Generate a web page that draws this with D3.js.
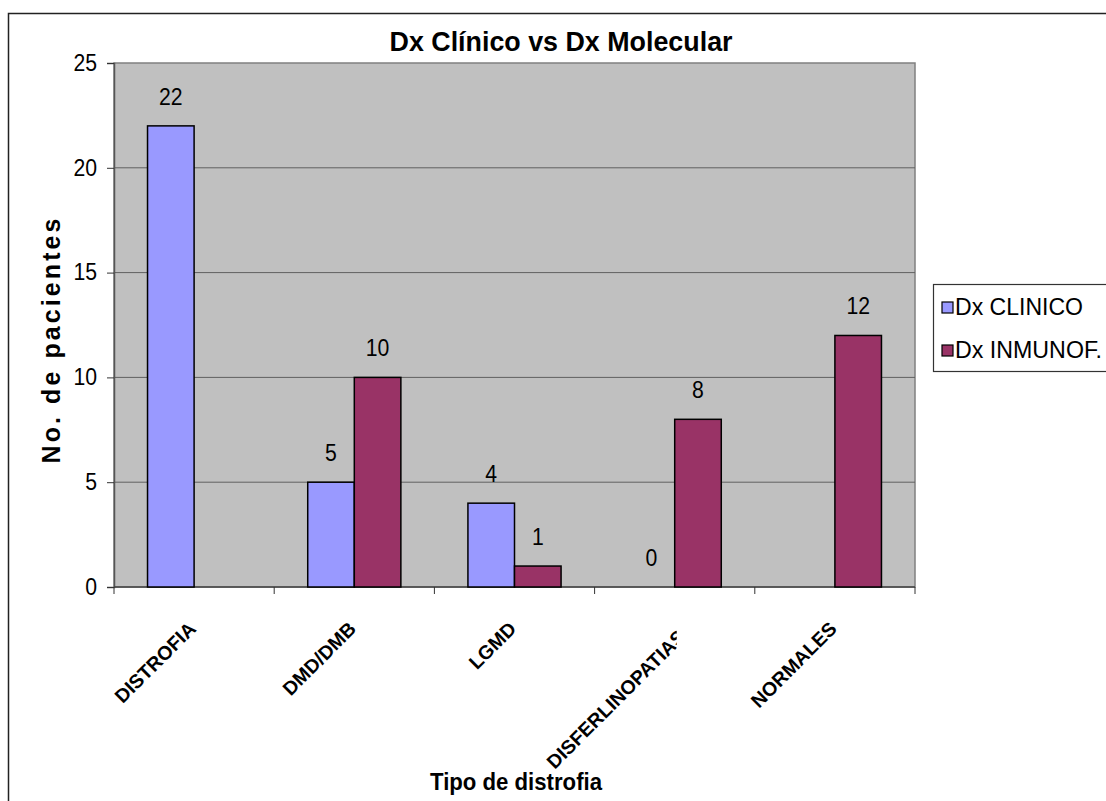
<!DOCTYPE html>
<html><head><meta charset="utf-8">
<script src="https://cdn.jsdelivr.net/npm/d3@7"></script>
<style>body{margin:0;background:#fff;} svg{display:block;}</style>
</head><body>
<svg id="c" width="1106" height="801"></svg>
<script>
const categories = ["DISTROFIA","DMD/DMB","LGMD","DISFERLINOPATIAS","NORMALES"];
const seriesNames = ["Dx CLINICO","Dx INMUNOF."];
const clinico = [22, 5, 4, 0, null];
const inmunof = [null, 10, 1, 8, 12];
const yTicks = [0,5,10,15,20,25];
const colors = ["#9999FF","#993366"];

const svg = d3.select("#c");
const font = "'Liberation Sans', Arial, sans-serif";
const L = 114, R = 915, T = 63, B = 587;

// outer chart border
svg.append("rect").attr("x",8.5).attr("y",13.5).attr("width",1120).attr("height",820)
  .attr("fill","#fff").attr("stroke","#222").attr("stroke-width",1.5);

const x0 = d3.scaleBand().domain(categories).range([L,R]).paddingInner(0).paddingOuter(0);
const x1 = d3.scaleBand().domain(seriesNames).range([0,x0.bandwidth()]).paddingInner(0).paddingOuter(0.72);
const y = d3.scaleLinear().domain([0,25]).range([B,T]);

// plot area
svg.append("rect").attr("x",L).attr("y",T).attr("width",R-L).attr("height",B-T)
  .attr("fill","#C0C0C0").attr("stroke","#808080").attr("stroke-width",1.5);

// gridlines
svg.append("g").selectAll("line").data(yTicks.filter(t=>t>0 && t<25)).join("line")
  .attr("x1",L).attr("x2",R).attr("y1",d=>y(d)).attr("y2",d=>y(d))
  .attr("stroke","#606060").attr("stroke-width",1);

// y axis
const yAxis = svg.append("g").attr("transform",`translate(${L},0)`)
  .call(d3.axisLeft(y).tickValues(yTicks).tickSize(7).tickPadding(10));
yAxis.select(".domain").attr("stroke","#555").attr("stroke-width",1.5);
yAxis.selectAll(".tick line").attr("stroke","#333");
yAxis.selectAll("text").attr("font-family",font).attr("font-size",23).attr("fill","#000")
  .attr("textLength",function(){return this.textContent.length*11.8;}).attr("lengthAdjust","spacingAndGlyphs");

// x axis with ticks at category boundaries
const xAxisG = svg.append("g");
xAxisG.append("line").attr("x1",L).attr("x2",R).attr("y1",B).attr("y2",B).attr("stroke","#444").attr("stroke-width",1.5);
const bounds = categories.map(c=>x0(c)).concat([x0(categories[categories.length-1])+x0.bandwidth()]);
xAxisG.selectAll("line.tk").data(bounds).join("line").attr("class","tk")
  .attr("x1",d=>d).attr("x2",d=>d).attr("y1",B).attr("y2",B+7).attr("stroke","#333").attr("stroke-width",1);

// bars
const data = [];
categories.forEach((c,i)=>{
  [clinico[i], inmunof[i]].forEach((v,j)=>{ if(v!==null) data.push({c, s:seriesNames[j], v, j}); });
});
svg.append("g").selectAll("rect").data(data).join("rect")
  .attr("x",d=>x0(d.c)+x1(d.s)).attr("width",x1.bandwidth())
  .attr("y",d=>y(d.v)).attr("height",d=>y(0)-y(d.v))
  .attr("fill",d=>colors[d.j]).attr("stroke","#000").attr("stroke-width",1.5);

// value labels
svg.append("g").selectAll("text").data(data).join("text")
  .attr("x",d=>x0(d.c)+x1(d.s)+x1.bandwidth()/2).attr("y",d=>y(d.v)-21)
  .attr("text-anchor","middle").attr("font-family",font).attr("font-size",23).attr("fill","#000")
  .attr("textLength",d=>String(d.v).length*11.8).attr("lengthAdjust","spacingAndGlyphs")
  .text(d=>d.v);

// category labels (long ones are cut at the category centre, as in the original)
const defs = svg.append("defs");
categories.forEach((c,i)=>{
  const cx = x0(c)+x0.bandwidth()/2;
  const long = c.length > 12;
  const dx = long ? 12 : 3;
  const cp = defs.append("clipPath").attr("id","clip"+i);
  cp.append("rect").attr("x",0).attr("y",0).attr("width",long ? cx+2 : cx+20).attr("height",801);
  svg.append("g").attr("clip-path",`url(#clip${i})`)
    .append("text").attr("transform",`translate(${cx+dx},${long?638:630}) rotate(-45)`)
    .attr("text-anchor","end").attr("font-family",font).attr("font-weight","bold")
    .attr("font-size",19.5).attr("fill","#000").text(c);
});

// title
svg.append("text").attr("x",561).attr("y",51).attr("text-anchor","middle")
  .attr("font-family",font).attr("font-weight","bold").attr("font-size",27.5).attr("fill","#000")
  .attr("textLength",343).attr("lengthAdjust","spacingAndGlyphs")
  .text("Dx Clínico vs Dx Molecular");

// axis titles
svg.append("text").attr("x",516).attr("y",790).attr("text-anchor","middle")
  .attr("font-family",font).attr("font-weight","bold").attr("font-size",24).attr("fill","#000")
  .attr("textLength",172).attr("lengthAdjust","spacingAndGlyphs")
  .text("Tipo de distrofia");
svg.append("text").attr("transform","translate(60,341) rotate(-90)").attr("text-anchor","middle")
  .attr("font-family",font).attr("font-weight","bold").attr("font-size",25).attr("fill","#000")
  .attr("textLength",245).attr("lengthAdjust","spacing")
  .text("No. de pacientes");

// legend
const lg = svg.append("g");
lg.append("rect").attr("x",933.5).attr("y",284.5).attr("width",200).attr("height",87)
  .attr("fill","#fff").attr("stroke","#333").attr("stroke-width",1.2);
seriesNames.forEach((s,i)=>{
  const cy = 307 + i*43;
  lg.append("rect").attr("x",942).attr("y",cy-5).attr("width",11).attr("height",11)
    .attr("fill",colors[i]).attr("stroke","#000").attr("stroke-width",1.2);
  lg.append("text").attr("x",955).attr("y",cy+8).attr("font-family",font).attr("font-size",24)
    .attr("fill","#000").attr("textLength",i===0?128:147).attr("lengthAdjust","spacingAndGlyphs").text(s);
});
</script>
</body></html>
